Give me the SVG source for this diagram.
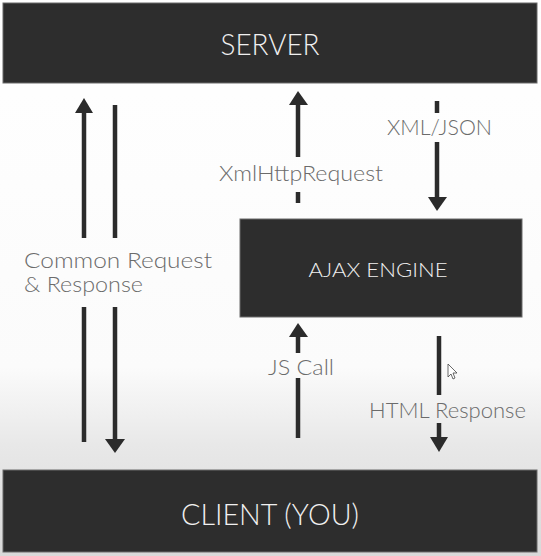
<svg xmlns="http://www.w3.org/2000/svg" width="541" height="556" viewBox="0 0 541 556">
<defs>
<linearGradient id="bg" x1="0" y1="0" x2="0" y2="1">
<stop offset="0" stop-color="#ffffff"/>
<stop offset="0.66" stop-color="#fbfbfb"/>
<stop offset="0.8" stop-color="#e8e8e8"/>
<stop offset="1" stop-color="#d9d9d9"/>
</linearGradient>
<style>
.bar{fill:#2d2d2d;stroke:#6a6a6a;stroke-width:1}
.ttl{fill:#f0f0f0;font-family:"Lato","Liberation Sans",sans-serif;font-weight:300;text-anchor:middle}
.lbl{fill:#6b6b6b;font-family:"Lato","Liberation Sans",sans-serif;font-weight:300;font-size:21px}
.ln{stroke:#2b2b2b;stroke-width:4.5;fill:none}
.hd{fill:#2b2b2b}
</style>
</defs>
<rect x="0" y="0" width="541" height="556" fill="url(#bg)"/>

<g id="server">
<rect class="bar" x="3" y="3" width="534" height="80"/>
<text class="ttl" x="270" y="55" font-size="30" textLength="99" lengthAdjust="spacingAndGlyphs">SERVER</text>
</g>

<g id="client">
<rect class="bar" x="3" y="470" width="534" height="82"/>
<text class="ttl" x="270" y="525" font-size="30" textLength="178" lengthAdjust="spacingAndGlyphs">CLIENT (YOU)</text>
</g>

<g id="ajax-engine">
<rect class="bar" x="240" y="219" width="282" height="98"/>
<text class="ttl" x="378" y="277" font-size="19" textLength="139" lengthAdjust="spacingAndGlyphs">AJAX ENGINE</text>
</g>

<g id="connectors">
<line class="ln" x1="84" y1="442" x2="84" y2="307"/>
<line class="ln" x1="84" y1="238" x2="84" y2="112"/>
<polygon class="hd" points="84,98 75,113 93,113"/>
<line class="ln" x1="115" y1="105" x2="115" y2="238"/>
<line class="ln" x1="115" y1="307" x2="115" y2="441"/>
<polygon class="hd" points="115,453 105,439 125,439"/>
<line class="ln" x1="298" y1="203" x2="298" y2="192"/>
<line class="ln" x1="298" y1="157" x2="298" y2="104"/>
<polygon class="hd" points="298,91 289,105 308,105"/>
<line class="ln" x1="437" y1="101" x2="437" y2="113"/>
<line class="ln" x1="437" y1="142" x2="437" y2="199"/>
<polygon class="hd" points="437,211 428,197 447,197"/>
<line class="ln" x1="298" y1="438" x2="298" y2="378"/>
<line class="ln" x1="298" y1="353" x2="298" y2="336"/>
<polygon class="hd" points="298,323 289,337 308,337"/>
<line class="ln" x1="439" y1="336" x2="439" y2="395"/>
<line class="ln" x1="439" y1="423" x2="439" y2="439"/>
<polygon class="hd" points="439,452 430,437 448,437"/>
</g>

<g id="labels">
<text class="lbl" x="24" y="268" textLength="188" lengthAdjust="spacingAndGlyphs">Common Request</text>
<text class="lbl" x="24" y="292" textLength="119" lengthAdjust="spacingAndGlyphs">&amp; Response</text>
<text class="lbl" x="219" y="181" textLength="164" lengthAdjust="spacingAndGlyphs">XmlHttpRequest</text>
<text class="lbl" x="387" y="135" textLength="105" lengthAdjust="spacingAndGlyphs">XML/JSON</text>
<text class="lbl" x="268" y="375" textLength="66" lengthAdjust="spacingAndGlyphs">JS Call</text>
<text class="lbl" x="369" y="418" textLength="157" lengthAdjust="spacingAndGlyphs">HTML Response</text>
</g>

<g id="cursor">
<path d="M448,364 L448,377 L451,374 L453,379 L455,378 L453,373 L457,373 Z" fill="#ffffff" stroke="#444" stroke-width="0.8"/>
</g>
</svg>
